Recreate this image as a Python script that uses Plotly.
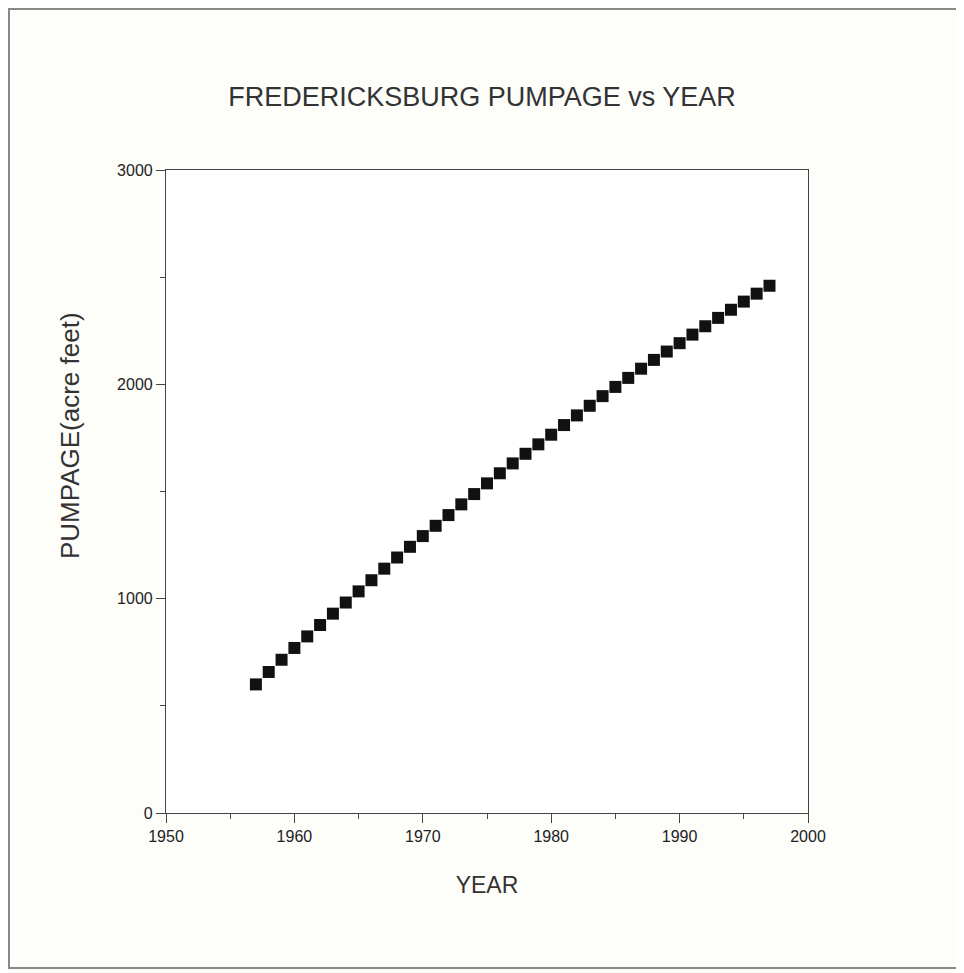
import plotly.graph_objects as go

years = list(range(1957, 1998))
pumpage = [600, 658, 715, 770, 824, 877, 930, 982, 1034, 1086,
           1140, 1192, 1242, 1292, 1340, 1390, 1440, 1488, 1538, 1585,
           1631, 1676, 1720, 1765, 1810, 1855, 1900, 1945, 1988, 2030,
           2073, 2114, 2153, 2192, 2232, 2271, 2310, 2348, 2386, 2423, 2460]

x_ticks = [1950, 1960, 1970, 1980, 1990, 2000]
y_ticks = [0, 1000, 2000, 3000]

tick_family = "Liberation Sans Narrow, Liberation Sans, Arial, sans-serif"
text_family = "Liberation Sans, Arial, sans-serif"

W, H = 964, 973
L, T = 158, 162           # page offset of 8px is added by the browser
PW, PH = 642, 643

fig = go.Figure()
fig.add_trace(go.Scatter(
    x=years, y=pumpage, mode="markers",
    marker=dict(symbol="square", size=12, color="#111111", line=dict(width=0)),
    showlegend=False,
))

axis_common = dict(
    showline=True, linecolor="#444444", linewidth=1.2, mirror=True,
    showgrid=False, zeroline=False,
    ticks="outside", ticklen=9, tickwidth=1, tickcolor="#444444",
    tickfont=dict(family=tick_family, size=16, color="#222222"),
)

fig.update_layout(
    width=W, height=H,
    paper_bgcolor="#fdfdfa", plot_bgcolor="#ffffff",
    margin=dict(l=L, r=W - L - PW, t=T, b=H - T - PH),
    title=dict(text="FREDERICKSBURG PUMPAGE vs YEAR",
               x=(L + PW / 2 - 5) / W, xanchor="center", y=1 - 89 / H, yanchor="middle",
               font=dict(family=text_family, size=27, color="#333333")),
    xaxis=dict(range=[1950, 2000], tickvals=x_ticks,
               ticktext=[str(v) for v in x_ticks],
               minor=dict(dtick=5, tick0=1950, ticks="outside", ticklen=5, tickcolor="#444444"),
               title=dict(text="YEAR", standoff=32,
                          font=dict(family=text_family, size=23, color="#333333")),
               **axis_common),
    yaxis=dict(range=[0, 3000], tickvals=y_ticks,
               ticktext=[str(v) for v in y_ticks],
               minor=dict(dtick=500, tick0=0, ticks="outside", ticklen=5, tickcolor="#444444"),
               **axis_common),
)

# y-axis title (placed as in the original, above the axis centre)
fig.add_annotation(text="PUMPAGE(acre feet)", textangle=-90,
                   xref="paper", yref="paper",
                   x=(62 - L) / PW, y=(T + PH - 428) / PH,
                   xanchor="center", yanchor="middle", showarrow=False,
                   font=dict(family=text_family, size=26, color="#333333"))

# outer frame around the whole picture (figure pixel coords -> paper coords)
fx0, fx1, fy0, fy1 = 1, 954, 1, 960
fig.add_shape(type="rect", xref="paper", yref="paper",
              x0=(fx0 - L) / PW, x1=(fx1 - L) / PW,
              y0=(T + PH - fy1) / PH, y1=(T + PH - fy0) / PH,
              line=dict(color="#888888", width=2), fillcolor="rgba(0,0,0,0)", layer="below")

fig.write_html("out.html")
